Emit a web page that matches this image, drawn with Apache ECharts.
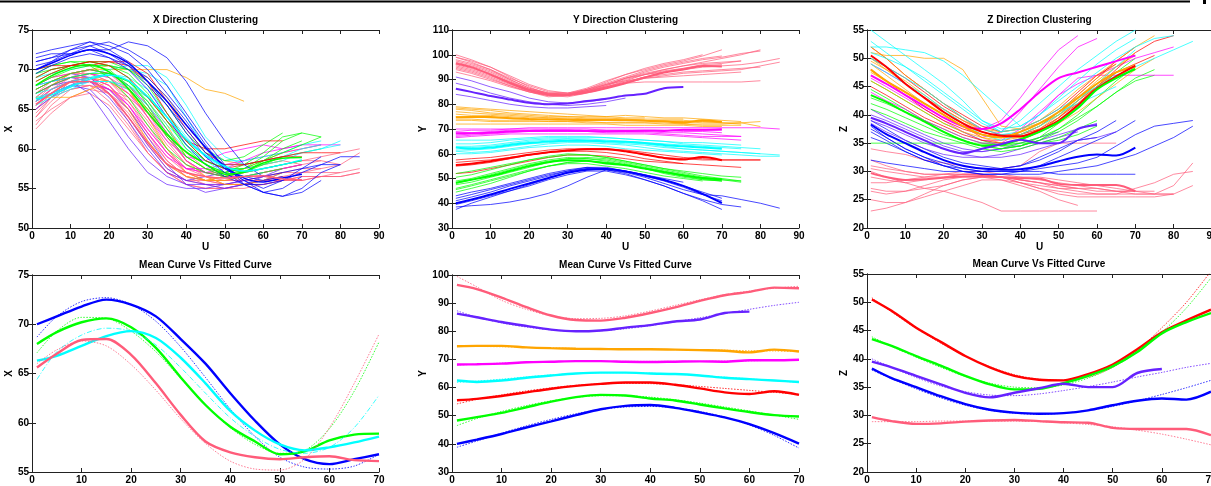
<!DOCTYPE html>
<html>
<head>
<meta charset="utf-8">
<script src="https://cdn.jsdelivr.net/npm/echarts@6/dist/echarts.min.js"></script>
<style>html,body{margin:0;padding:0;background:#fff}#chart{width:1211px;height:486px}</style>
</head>
<body>
<div id="chart"></div>
<script>
// U positions the sampled curves are read at
var U = [1, 5, 10, 15, 20, 25, 30, 35, 40, 45, 50, 55, 60, 65, 70, 75, 80, 85, 90];

// ---------- X direction, single trajectories ----------
var xBlue = [
  [72.0,72.5,73.0,73.5,73.0,72.0,70.0,67.0,64.0,60.5,57.5,56.0,55.0,56.0,57.5,59.0],
  [71.0,71.5,72.5,73.5,72.5,71.0,68.5,65.5,62.0,59.0,57.0,55.5,54.5,55.0,56.5],
  [70.5,71.0,72.0,72.5,72.5,73.5,73.0,71.5,68.5,64.5,61.0,58.0,56.5,57.0,57.5,58.0,58.0],
  [69.5,70.5,71.5,72.0,71.5,70.0,67.5,64.0,60.5,58.0,56.5,55.5,55.5,56.0,57.0,58.0,59.0,59.0],
  [70.0,71.0,72.5,73.0,72.0,70.5,69.0,66.5,63.5,60.0,57.5,56.0,54.5,54.0,55.0,57.0,58.0],
  [71.5,72.0,72.0,72.5,71.5,70.5,68.0,65.5,62.5,59.5,57.5,56.5,56.0,56.5],
  [71.0,71.5,72.0,73.0,73.5,72.5,71.0,68.0,64.5,61.0,58.0,55.5,54.5,54.0,54.5,56.0]
];
var xViolet = [
  [67.0,68.0,68.5,67.0,63.5,60.0,57.0,55.5,55.0,55.0,55.5,56.0,56.5],
  [66.0,67.0,68.0,67.5,65.0,61.5,58.5,56.5,55.5,55.5,55.0,55.5,56.0,57.0],
  [68.0,68.5,69.0,68.5,66.5,63.5,60.0,57.0,56.0,56.5,57.0],
  [65.0,66.5,68.0,68.5,67.5,65.0,61.5,58.0,55.5,54.5,55.0,55.5,56.5,57.5,58.0],
  [67.5,68.5,69.5,69.0,67.0,64.0,60.5,57.5,56.0,55.5,55.5,56.0]
];
var xGreen = [
  [69.0,70.0,70.5,71.0,70.5,69.5,67.0,63.5,60.0,58.0,57.0,58.0,59.5,61.5,62.0],
  [70.0,70.5,71.0,71.0,70.5,69.0,65.5,61.5,59.0,57.5,57.0,57.5,58.5,59.5,60.5,61.5],
  [68.0,69.0,70.0,70.5,70.0,68.0,65.0,62.0,59.5,58.0,57.0,56.5,57.0,57.5],
  [67.5,68.5,69.5,70.0,69.5,68.5,66.0,62.5,59.0,57.5,56.5,57.0,58.5,60.0,61.0],
  [69.5,70.5,71.0,70.5,69.0,66.5,63.0,60.0,58.0,57.0,56.5,57.0,58.0,59.0],
  [68.5,69.5,70.5,71.0,71.0,70.0,68.0,64.5,61.0,58.5,57.5,57.5,59.0,61.0,62.0,61.5],
  [67.0,68.0,69.0,69.5,69.5,68.5,66.5,63.5,60.5,58.5,57.5,57.0,57.5,58.0,58.5],
  [69.5,70.0,70.5,70.5,70.5,70.0,68.5,65.5,62.0,59.5,58.5,59.0,60.5,62.0]
];
var xCyan = [
  [68.0,68.5,69.0,69.5,70.0,70.5,70.5,69.0,65.5,61.5,59.0,58.0,58.5,59.0,60.0,60.5],
  [66.0,67.0,68.0,69.0,69.5,69.0,67.5,64.5,61.5,59.0,57.5,57.0,57.5,58.0,58.5],
  [65.5,66.5,67.5,68.5,68.5,67.5,65.5,62.5,60.0,58.5,57.5,57.5,58.0,58.5,59.5,60.0,61.0],
  [67.0,67.5,68.5,69.0,69.5,68.0,66.0,63.0,60.5,58.5,57.0,56.5,57.0],
  [69.0,69.5,70.0,70.5,70.5,70.0,69.5,68.0,64.0,60.0,58.5,58.5,59.0,59.5,60.5,61.0],
  [66.5,67.0,68.0,68.5,68.5,68.0,66.5,64.0,61.0,59.0,58.0,58.0,58.5,59.0,59.5,60.0,60.5]
];
var xPink = [
  [65.0,67.0,68.5,68.5,67.0,64.5,61.0,58.0,56.5,56.0,56.0,56.5,56.5,56.0,56.0],
  [63.0,65.5,67.5,68.0,67.0,64.0,60.5,57.5,56.0,55.5,55.5,56.0,56.5,57.0,57.0,57.5,58.0],
  [66.0,68.0,69.5,69.5,68.5,66.5,63.5,60.0,57.5,56.5,56.0,56.0,56.0,56.5,56.0,56.5,56.5,57.0],
  [64.0,66.0,68.0,69.0,68.0,65.5,62.0,58.5,56.5,55.5,55.0,55.5,56.0,56.5],
  [67.0,68.5,69.5,70.0,69.5,67.5,64.0,60.5,58.0,57.0,56.5,57.0,57.5,58.0,58.5,59.0,59.5,60.0],
  [65.5,67.0,68.0,68.0,66.0,63.0,59.5,57.0,55.5,55.0,55.0,55.5,56.0,56.0],
  [66.5,68.0,69.0,69.5,68.5,66.0,62.5,59.5,57.5,57.0,57.0,57.5,58.0,58.5,58.0,58.5],
  [64.5,66.5,68.5,69.0,68.5,67.0,64.5,61.0,58.0,56.5,55.5,55.5,55.5,56.0,56.5,56.5,57.0],
  [63.5,65.0,66.5,67.0,65.5,62.5,59.5,57.0,56.0,56.0,56.5,57.0,57.5],
  [67.5,68.5,69.0,69.0,67.5,65.0,61.5,58.5,56.5,56.0,56.0,56.0,56.5,57.0,57.5,57.5],
  [66.0,67.5,68.5,68.5,67.5,66.0,63.0,59.5,57.0,56.0,55.5,55.5,56.0,56.5,57.0,57.0,57.0,57.5],
  [64.0,66.5,68.5,69.5,69.0,67.5,65.0,61.5,58.5,57.0,56.5,56.5,57.0,57.5,58.0],
  [65.5,67.5,69.0,70.0,69.5,68.0,65.5,62.5,59.5,57.5,56.5,56.0,56.0,56.0,56.5,56.5],
  [62.5,64.5,66.5,67.5,67.0,65.0,62.0,59.0,57.0,56.0,55.5,55.5,55.5,56.0],
  [66.5,68.0,69.0,69.0,67.0,63.5,59.5,57.0,55.5,55.0,55.0,55.0,55.5,56.0,56.0,56.5,56.5,57.0],
  [65.0,66.5,67.5,68.0,67.5,66.5,64.5,61.5,58.5,57.0,56.5,57.0,57.5,58.0,58.5,58.5,58.0,59.5]
];
var xOrange = [
  [67.0,68.0,69.5,70.0,70.0,70.0,70.0,70.0,69.0,67.5,67.0,66.0],
  [66.5,66.5,66.5,67.5,68.5,67.5,64.0,60.0,57.0,56.0,56.5,57.5,58.5,59.5,60.0,60.5],
  [66.0,67.5,68.5,69.0,68.0,65.0,61.0,58.0,56.5,56.0,56.0,56.5,57.0,57.5,58.0],
  [67.5,68.5,69.5,70.0,69.5,68.0,66.0,63.0,59.0,57.5,57.0,57.5,58.0,58.5],
  [65.5,67.0,68.5,69.0,68.5,67.0,65.0,62.0,58.5,56.5,55.5,55.5,56.0,57.0],
  [68.0,69.0,69.5,70.0,70.5,70.0,69.0,66.5,63.0,60.0,58.5,58.0,58.5,59.0,59.5,60.0]
];
var xMagenta = [
  [67.0,68.0,69.0,69.5,69.0,67.0,64.0,61.0,59.0,58.5,59.5,60.0,60.5,60.0,60.5],
  [66.0,67.5,68.5,69.0,68.0,65.5,62.0,59.0,57.5,57.5,58.0,58.5,59.0,59.5,60.0,60.5],
  [68.0,69.0,69.5,70.0,69.5,68.0,65.5,62.0,58.5,57.0,56.5,56.5,57.0,57.5,58.0],
  [65.5,67.0,68.0,68.5,67.5,65.5,62.5,59.5,57.5,57.0,57.5,58.5,59.5,60.0,60.5,60.5,60.5]
];
var xRed = [
  [70.0,70.5,70.5,70.5,71.0,71.0,69.5,66.0,62.5,59.5,58.0,58.0,58.5,59.0,59.5,59.5,59.5],
  [68.5,69.5,70.5,71.0,70.5,69.0,66.5,63.5,61.0,60.0,60.0,60.5,61.0,61.0],
  [69.0,70.0,70.5,71.0,71.0,70.5,68.5,64.5,61.0,58.5,57.5,58.0,58.5,59.0,59.0]
];

// X direction, cluster mean and fitted curve (U = 1..70)
var xMeanBlue  = [70.0,70.8,71.8,72.5,72.0,70.8,68.5,66.0,63.0,60.2,57.8,56.3,55.8,56.3,56.8];
var xFitBlue   = [68.7,70.8,72.3,72.7,72.0,70.3,67.7,64.6,61.4,58.6,56.5,55.5,55.3,55.6,56.8];
var xMeanGreen = [68.0,69.2,70.2,70.6,69.7,67.6,64.6,61.8,59.6,58.1,56.8,57.1,58.2,58.8,58.9];
var xFitGreen  = [67.1,69.3,70.7,70.6,69.3,67.2,64.5,61.8,59.5,57.8,56.9,57.2,59.4,63.2,68.2];
var xMeanCyan  = [66.3,66.8,67.8,68.8,69.3,68.6,66.6,64.0,61.2,59.2,57.8,57.2,57.5,58.0,58.6];
var xFitCyan   = [64.4,67.2,68.9,69.6,69.3,67.9,65.6,63.0,60.5,58.6,57.3,56.9,57.5,59.5,62.8];
var xMeanPink  = [65.6,67.0,68.4,68.5,66.9,64.0,60.8,58.1,57.0,56.5,56.3,56.5,56.6,56.2,56.1];
var xFitPink   = [66.0,67.4,68.3,67.8,65.9,63.3,60.4,57.9,56.1,55.3,55.2,56.3,59.5,64.0,69.0];

// ---------- Y direction, single trajectories ----------
var yPink = [
  [100.0,98.0,95.0,91.0,87.0,84.0,84.0,86.0,89.0,92.0,94.0,96.0,97.5,99.5,102.0],
  [97.0,95.5,93.0,89.5,86.0,84.0,83.5,85.0,87.5,90.5,92.5,94.0,95.5,97.0,98.5,100.0,102.0],
  [95.0,93.5,91.0,88.0,85.5,83.5,83.5,85.5,88.0,90.5,92.0,93.0,94.0,95.0,95.5,96.0,97.0,98.5],
  [93.0,91.5,89.5,87.0,85.0,83.5,84.0,86.0,88.0,89.5,90.5,91.0,91.5,92.0,92.5,93.0],
  [98.0,96.5,94.0,90.5,87.5,85.0,84.5,86.0,88.5,91.0,93.5,95.5,97.0,98.5,99.5],
  [94.5,93.0,90.5,87.5,85.0,83.0,83.5,85.0,87.0,88.5,89.0,89.0,89.0,89.0,89.0,89.0,89.5],
  [96.0,94.5,92.0,89.0,86.0,84.5,84.0,85.5,87.5,90.0,92.0,93.5,94.5,96.0,96.5,97.5],
  [99.0,97.0,94.0,90.0,86.5,84.5,84.5,86.5,89.5,92.0,94.5,96.5,98.0,100.0],
  [95.5,94.0,91.5,88.5,86.0,84.0,84.0,85.5,87.0,89.0,91.0,92.0,93.0,93.5,94.0,94.5,95.0],
  [97.5,96.0,93.5,90.0,86.5,84.5,84.0,85.5,88.0,90.5,93.0,95.0,96.5,98.0,99.0,100.5,101.5],
  [94.0,92.5,90.0,87.5,85.0,83.5,83.0,84.5,86.5,88.5,90.5,91.5,92.5,93.0,93.5,94.0,95.5,97.0],
  [99.0,97.5,95.0,91.5,88.0,85.5,84.5,85.0,87.0,89.5,92.0,94.0,95.5,96.5,97.0,97.5],
  [96.5,95.0,92.5,89.0,86.0,84.0,83.5,85.0,87.0,89.0,91.0,93.0,94.5,95.5,96.0]
];
var yViolet = [
  [91.0,89.5,87.0,85.0,82.5,81.0,80.5,81.0,82.0],
  [84.0,83.0,81.5,80.0,79.0,78.5,78.5,79.0,79.5],
  [88.5,87.0,84.5,82.5,81.0,80.0,79.5,80.0,81.0,82.5]
];
var yOrange = [
  [79.0,78.5,78.0,77.5,77.0,76.5,76.0,75.5,75.0,74.5,74.5],
  [77.0,76.5,76.0,75.5,75.0,74.5,74.5,74.0,74.0,73.5,73.5,73.0,73.0,72.5,72.5,72.0],
  [75.0,75.0,74.5,74.5,74.0,74.0,74.0,73.5,73.5,73.5,73.5,73.0,73.0,73.0,72.5,72.5,71.0],
  [72.0,72.0,72.0,72.0,72.0,72.0,72.0,72.0,72.0,71.5,71.5,71.5,71.5,71.0,71.0],
  [73.5,73.5,73.0,73.0,73.0,73.0,73.0,72.5,72.5,72.5,72.5,72.5,72.0,72.0,72.0,72.5,73.0],
  [78.0,77.5,76.5,76.0,75.5,75.0,75.0,75.0,75.0,75.5,75.0,74.5,74.5,74.0,73.5,73.0],
  [76.0,75.5,75.5,75.0,74.5,74.5,74.0,74.0,74.0,74.0,73.5,73.5,73.5,73.0,73.0],
  [74.0,74.0,73.5,73.5,73.5,73.0,73.0,73.0,72.5,72.5,72.5,72.0,72.0,71.5,71.5,71.5],
  [78.5,78.0,77.5,76.5,76.0,75.5,75.0,74.5,74.5,74.0,74.0,74.0,74.0]
];
var yMagenta = [
  [70.0,70.0,70.0,70.0,70.5,70.5,70.5,70.5,70.5,70.5,70.5,70.5,70.5,70.5,70.5,70.5,70.5,70.0],
  [67.0,67.5,68.0,68.5,69.0,69.0,69.0,69.0,69.0,69.0,69.0,68.5,68.5,68.0,67.5,67.0],
  [68.5,68.5,69.0,69.5,69.5,69.5,69.5,69.5,69.5,69.5,69.5,69.5,69.0,69.0,68.5],
  [66.5,67.0,67.5,68.0,68.0,68.0,68.0,68.0,68.0,68.0,68.0,67.5,67.0,66.5,66.0,65.5],
  [69.0,69.5,69.5,70.0,70.0,70.0,70.0,70.0,69.5,69.5,69.5,69.5,69.5,69.5,69.5],
  [67.5,68.0,68.5,69.0,69.0,69.0,69.0,69.0,68.5,68.5,68.5,68.0,67.5,67.0,67.0,67.0]
];
var yCyan = [
  [64.0,64.0,64.5,65.5,66.0,66.5,66.5,66.5,66.5,66.0,65.5,65.0,64.0,63.5,63.0,62.5,62.0],
  [61.0,60.5,61.0,62.0,63.0,64.0,64.5,64.5,64.0,63.5,62.5,61.5,61.0,60.5,60.0,59.5,59.0,59.0],
  [62.5,62.5,63.0,64.0,65.0,65.5,66.0,66.0,65.5,65.0,64.5,64.0,63.5,63.0,62.5,62.0],
  [60.0,60.0,60.5,61.5,62.5,63.0,63.5,63.5,63.0,62.0,61.5,61.0,60.5,60.0,59.5],
  [65.5,65.5,65.5,66.0,66.5,67.0,67.0,67.0,66.5,66.0,65.5,65.0,64.5,64.5,64.0,63.5],
  [63.0,63.0,63.5,64.5,65.5,66.0,66.0,65.5,65.0,64.5,64.0,63.0,62.0,61.5,61.0,60.5,60.0],
  [61.5,61.5,62.0,63.0,64.0,64.5,65.0,65.0,64.5,64.0,63.5,62.5,62.0,61.5,61.0,60.5,60.0,59.5]
];
var yRed = [
  [57.5,58.0,58.5,59.5,60.5,61.5,62.0,62.0,62.0,61.5,60.5,59.5,58.5,58.0,57.5,57.5,57.5],
  [55.0,55.5,56.5,58.0,59.5,60.5,61.0,61.0,60.5,59.5,58.0,57.0,56.0,55.5,55.0,54.5],
  [52.0,52.5,54.0,55.5,57.0,58.5,59.5,59.5,59.0,58.0,57.0,56.5,56.0],
  [56.5,57.0,57.5,58.5,59.5,60.5,61.5,62.0,62.0,61.0,59.5,58.5,58.0,57.5,57.5,57.5,57.5]
];
var yGreen = [
  [52.0,53.0,54.5,56.0,57.5,58.5,59.5,59.5,58.5,57.0,55.5,54.0,52.5,51.0,50.0,49.0],
  [49.0,50.0,52.0,54.0,56.0,57.5,58.5,58.0,57.0,55.5,54.0,52.5,51.0,49.5,49.0],
  [46.0,47.5,49.5,51.5,53.5,55.0,56.0,56.0,55.0,54.0,52.5,51.0,50.0,49.0],
  [44.5,46.0,48.0,50.5,53.0,55.0,56.5,57.0,56.5,55.5,54.0,52.0,50.5,49.5,49.0],
  [50.5,51.5,53.5,55.5,57.5,59.0,60.0,59.5,58.5,57.0,55.5,54.0,53.0,52.0,51.0,50.5],
  [47.5,48.5,50.5,52.5,54.5,56.5,58.0,58.5,58.0,56.5,55.0,53.5,52.0,50.5,49.5,48.5],
  [45.5,47.0,49.0,51.0,53.0,55.0,56.5,57.0,56.5,55.5,54.0,52.5,51.0,50.0,49.0],
  [48.0,49.5,51.5,53.5,55.5,57.0,58.0,58.0,57.5,56.0,54.5,53.0,51.5,50.0,49.5,49.0]
];
var yBlue = [
  [38.5,39.0,39.5,40.5,42.0,44.0,47.0,50.5,53.5,52.5,50.5,48.0,45.5,43.5,43.0,41.5,40.0,38.0],
  [37.5,40.0,42.5,45.0,47.5,50.0,52.5,54.0,53.5,52.0,49.5,47.0,44.0,41.0,37.5],
  [41.0,42.5,44.5,47.0,49.0,51.0,53.0,54.5,54.5,53.0,51.5,49.5,47.0,44.5,42.0],
  [43.0,44.5,46.0,48.0,50.0,52.0,53.5,54.5,54.0,53.0,51.5,50.0,48.5],
  [39.5,41.0,43.0,45.0,47.0,49.5,51.5,53.0,53.0,51.5,49.5,47.0,44.0,41.5,39.5,38.5],
  [42.0,43.5,45.5,47.5,49.5,51.5,53.0,54.0,54.0,53.0,51.0,49.0,46.5,43.5,41.0]
];

// Y direction, cluster mean and fitted curve
var yMeanPink    = [96.5,95.0,92.0,88.6,85.6,84.0,83.8,84.8,86.5,88.5,90.8,92.8,94.0,95.5,95.3];
var yFitPink     = [99.5,95.8,91.0,87.8,85.5,84.5,84.6,85.5,87.2,89.2,91.2,93.0,94.3,95.3,96.0];
var yMeanViolet  = [86.3,85.0,83.3,81.9,80.6,80.0,80.3,81.3,82.2,83.5,84.2,86.5,87.0];
var yFitViolet   = [87.3,85.0,83.0,81.5,80.5,80.0,80.2,80.9,82.0,83.4,84.8,86.3,87.8,89.2,90.3];
var yMeanOrange  = [74.7,74.8,74.8,74.3,74.0,73.8,73.7,73.6,73.6,73.5,73.3,73.1,72.5,73.5,72.8];
var yFitOrange   = [74.6,74.6,74.5,74.3,74.1,73.9,73.8,73.7,73.6,73.5,73.4,73.3,73.1,73.0,72.8];
var yMeanMagenta = [68.2,68.3,68.5,69.0,69.2,69.4,69.4,69.2,69.1,69.2,69.3,69.2,69.7,69.7,69.9];
var yFitMagenta  = [68.0,68.3,68.7,69.0,69.2,69.3,69.3,69.3,69.3,69.3,69.3,69.4,69.5,69.7,69.9];
var yMeanCyan    = [62.5,62.0,62.5,63.5,64.3,65.0,65.3,65.3,65.0,64.8,64.3,63.5,63.0,62.5,62.0];
var yFitCyan     = [61.8,62.3,63.0,63.8,64.5,65.0,65.3,65.3,65.1,64.8,64.3,63.7,63.1,62.5,61.8];
var yMeanRed     = [55.5,56.0,57.0,58.3,59.6,60.6,61.3,61.8,61.8,61.0,59.7,58.3,57.7,58.7,57.4];
var yFitRed      = [54.2,55.8,57.4,58.8,59.9,60.8,61.3,61.5,61.4,61.0,60.4,59.7,59.0,58.3,57.6];
var yMeanGreen   = [48.3,49.5,51.0,53.0,55.0,56.6,57.4,57.2,56.1,55.4,54.0,52.6,51.3,50.2,49.7];
var yFitGreen    = [46.5,49.0,51.5,53.6,55.3,56.5,57.1,57.1,56.6,55.7,54.5,53.1,51.7,50.2,48.7];
var yMeanBlue    = [40.0,41.5,43.5,45.8,48.0,50.2,52.3,53.5,53.8,52.8,51.2,49.4,47.0,43.8,40.1];
var yFitBlue     = [38.8,41.0,43.8,46.4,48.7,50.7,52.2,53.1,53.3,52.8,51.5,49.5,46.7,43.0,38.5];

// ---------- Z direction, single trajectories ----------
var zCyan = [
  [55.0,53.0,50.5,48.0,45.5,42.5,39.0,37.0,39.0,42.0,45.0,48.0,50.5,53.0,55.0],
  [52.0,52.0,51.5,51.0,49.5,47.0,44.0,41.0,38.0,40.0,43.0,46.0,49.0,51.5,53.5],
  [53.0,51.0,48.5,46.0,43.5,41.0,38.5,37.0,37.5,39.0,41.0,43.0,45.0,47.0,48.5,50.0,51.5,53.0],
  [50.0,48.5,46.5,44.5,42.0,39.5,37.5,36.5,37.0,38.5,40.5,42.0,43.5,45.0],
  [49.0,47.5,45.5,43.5,41.0,38.5,36.5,35.5,36.5,38.0,40.0,42.5,45.5,48.5,51.5],
  [51.0,50.0,48.5,46.5,44.0,41.5,39.0,37.5,38.0,40.0,42.5,45.0,47.5,50.0,52.0,53.5,54.0]
];
var zOrange = [
  [51.0,50.5,50.5,50.0,50.0,48.0,43.0,38.0,37.5,38.5,40.0,42.0],
  [49.0,47.0,44.5,42.0,40.0,38.0,36.5,36.0,36.5,38.0,40.0,42.5,45.0,47.5,49.0],
  [52.0,50.0,47.0,44.5,42.0,39.5,37.0,36.0,36.0,37.0,38.5,40.5,43.0,45.5,48.0,50.0],
  [47.5,46.0,44.0,42.0,40.0,38.0,36.0,35.0,35.5,37.0,39.5,42.5,45.5,48.5,51.0],
  [50.0,48.0,45.5,43.0,41.0,39.0,37.5,37.0,37.5,39.0,41.5,44.5,47.0,49.5,52.0,54.0],
  [46.0,44.5,42.5,40.5,38.5,37.0,36.0,35.5,36.0,37.5,40.0,43.0,46.0,48.5,50.5],
  [49.5,48.0,46.0,43.5,41.0,39.0,37.0,36.0,36.5,38.0,40.5,43.5,46.5,49.0]
];
var zRed = [
  [50.0,48.5,46.5,44.0,41.5,39.5,37.5,36.5,36.5,37.5,39.5,42.0,45.0,48.0,51.0,53.0,54.0],
  [45.0,43.5,41.5,39.5,38.0,36.5,35.5,35.0,35.5,37.0,39.5,42.5,45.0,47.5,49.0,50.5],
  [52.0,50.0,47.0,44.5,42.0,40.0,38.0,37.0,37.5,39.0,41.0,44.0,47.0,49.0],
  [48.0,46.0,43.5,41.0,39.0,37.5,36.5,36.0,36.5,38.0,40.5,43.5,46.5,49.5,52.0]
];
var zMagenta = [
  [49.0,47.5,45.5,43.0,41.0,39.0,37.5,39.0,43.0,47.5,51.5,54.0],
  [48.0,46.0,44.0,42.0,40.0,38.0,36.0,37.0,40.5,44.5,48.5,52.0,53.5],
  [46.5,45.0,43.0,41.0,39.0,37.0,35.5,35.5,37.5,40.5,43.5,45.5,47.0,48.5,50.0,51.0,52.0],
  [44.0,42.5,41.0,39.0,37.5,36.0,35.0,35.0,37.0,40.0,43.5,46.5,47.0,47.0,47.0,47.0,47.0]
];
var zGreen = [
  [46.0,44.5,42.5,40.5,38.5,37.0,35.5,34.5,34.5,35.5,37.5,40.0,43.0,46.0,48.5],
  [43.0,42.0,40.5,39.0,37.5,36.0,35.0,34.5,35.0,36.0,37.5,39.5,41.5,44.0,46.5,48.0],
  [41.0,40.0,38.5,37.0,36.0,35.0,34.0,33.5,34.0,35.0,36.0,37.5,39.0],
  [35.0,35.0,35.0,35.0,35.0,35.0,35.0,35.0,35.0,35.0,35.5,36.5,38.0],
  [44.5,43.0,41.0,39.0,37.0,35.5,34.5,34.0,34.5,36.0,38.5,41.5,44.5,47.5,50.0],
  [42.0,41.0,39.5,38.0,36.5,35.5,34.5,34.0,34.5,35.5,37.0,39.0,41.5,44.0,46.0,47.0]
];
var zViolet = [
  [40.0,39.0,37.5,36.0,34.5,33.5,33.5,34.0,35.0,36.0,37.0],
  [38.5,37.0,35.5,34.0,33.0,32.5,32.5,33.0,34.0,35.0,36.0,37.0],
  [41.0,39.5,38.0,36.5,35.0,34.0,33.5,34.0,34.5,35.5,36.5,37.5,38.5],
  [39.0,38.0,36.5,35.0,34.0,33.0,32.5,32.5,33.0,34.0,35.0,35.5,36.0,37.0]
];
var zBlue = [
  [39.0,37.5,35.5,34.0,32.5,31.5,31.0,30.5,31.0,32.0,33.5,35.5,37.0,39.0],
  [37.5,36.0,34.0,32.5,31.0,30.0,29.5,29.5,29.5,29.5,30.0,30.5,31.0,32.0,33.0,34.5,36.0,38.0],
  [32.0,31.5,31.0,30.5,30.0,30.0,30.0,30.0,30.0,30.5,31.0,31.5,32.5,34.5,36.5,38.0,38.5,39.0],
  [36.0,35.0,33.5,32.0,31.0,30.5,30.0,30.0,30.0,30.0,29.5,29.5,29.5,29.5,29.5],
  [38.0,36.0,34.0,32.5,31.5,30.5,30.0,30.5,31.0,32.5,34.0,35.5,36.0],
  [37.0,35.5,33.5,32.0,31.0,30.0,29.5,29.5,30.0,31.0,32.5,34.0,35.5,37.0,39.0]
];
var zPink = [
  [34.0,33.5,33.0,32.0,31.5,31.0,30.5,30.5,31.0,33.5,35.0,35.0,35.0,35.0],
  [31.0,30.5,30.0,29.5,29.5,29.5,29.5,29.0,28.5,28.0,27.5,27.0,26.5,26.5,26.5,26.5],
  [29.0,28.5,28.0,28.5,29.0,29.5,29.5,29.0,28.0,27.0,26.0,25.5,25.5,25.5,25.5,25.5,26.0,27.5],
  [23.0,23.5,24.5,26.0,27.5,28.5,29.0,29.0,28.5,28.0,27.5,27.0,27.0,26.5,26.0,26.0,27.5,31.5],
  [27.0,26.5,26.5,27.0,27.5,28.5,29.0,29.0,29.0,29.0,28.5,28.0,27.5,27.0,26.5],
  [30.0,29.0,28.0,27.0,26.5,25.5,24.5,23.0,23.0,23.0,23.0,23.0,23.0],
  [25.0,24.5,24.5,25.5,26.5,27.5,28.5,28.5,27.5,26.5,25.0,24.0],
  [32.0,31.0,30.0,29.5,29.5,29.5,29.5,29.0,28.5,28.0,27.0,26.5,26.0,26.0,26.0,26.0,26.0],
  [28.0,28.0,28.5,29.0,29.5,30.0,30.0,29.5,29.0,28.5,28.0,27.5,27.0,26.5,26.5,26.0,26.0],
  [30.5,30.0,29.5,29.0,29.0,29.5,29.5,29.0,28.0,27.0,26.5,26.0,26.0,26.0,27.0,28.0,29.5,30.0],
  [26.5,26.0,26.5,27.5,28.5,29.0,29.0,28.5,28.0,27.5,27.0,27.0]
];
// thicker cluster curves visible only in the top Z panel
var zMeanMagenta = [47.0,45.5,43.5,41.5,39.5,38.0,37.5,38.5,41.0,44.0,46.5,47.5,48.5,49.5,50.5];
var zMeanOrange  = [48.0,46.0,44.0,42.0,40.0,38.0,36.5,36.0,37.0,38.5,40.5,43.0,45.5,47.5,48.5];

// Z direction, cluster mean and fitted curve
var zMeanRed    = [50.5,48.5,45.5,43.0,40.5,38.5,37.0,36.3,36.2,37.3,39.0,41.7,44.7,46.8,48.7];
var zFitRed     = [50.8,48.3,45.4,42.8,40.5,38.6,37.2,36.4,36.2,36.8,38.5,41.5,45.5,50.0,55.5];
var zMeanGreen  = [43.5,42.3,40.5,38.8,37.0,35.5,34.6,34.7,35.7,37.0,38.7,41.2,44.5,46.5,48.1];
var zFitGreen   = [43.9,42.2,40.3,38.5,36.9,35.7,35.0,34.9,35.4,36.6,38.5,41.2,44.7,49.0,54.3];
var zMeanViolet = [39.5,38.5,37.0,35.5,34.0,33.2,34.0,34.8,35.6,35.0,35.0,37.5,38.2];
var zFitViolet  = [40.0,38.5,36.7,35.2,34.2,33.6,33.5,33.8,34.4,35.1,35.9,36.8,37.6,38.5,39.2];
var zMeanBlue   = [38.3,36.6,35.0,33.4,32.0,31.0,30.5,30.3,30.4,30.9,31.8,32.6,33.0,32.8,34.2];
var zFitBlue    = [38.0,36.5,34.7,33.1,31.8,30.9,30.4,30.2,30.4,30.9,31.6,32.6,33.7,34.9,36.2];
var zMeanPink   = [29.7,29.0,28.5,28.6,28.9,29.1,29.2,29.0,28.8,28.7,27.8,27.6,27.6,27.6,26.5];
var zFitPink    = [28.9,28.9,28.9,29.0,29.0,29.0,29.0,28.9,28.7,28.4,28.0,27.4,26.7,25.8,24.8];

var titles = ["X Direction Clustering", "Y Direction Clustering", "Z Direction Clustering",
              "Mean Curve Vs Fitted Curve", "Mean Curve Vs Fitted Curve", "Mean Curve Vs Fitted Curve"];

var colors = {
  blue: "#0000ff", green: "#00ff00", red: "#ff0000", cyan: "#00ffff",
  magenta: "#ff00ff", orange: "#ffa500", pink: "#ff5c7a", violet: "#6622ff"
};

var FONT = "Liberation Sans, Arial, Helvetica, sans-serif";

// panel geometry and axis ranges
var panels = [
  { left: 32,  top: 30,  width: 347, height: 198, xMax: 90, yMin: 50, yMax: 75,  yStep: 5,  yName: "X", gap: 18 },
  { left: 452, top: 30,  width: 347, height: 198, xMax: 90, yMin: 30, yMax: 110, yStep: 10, yName: "Y", gap: 23 },
  { left: 867, top: 30,  width: 345, height: 198, xMax: 90, yMin: 20, yMax: 55,  yStep: 5,  yName: "Z", gap: 18 },
  { left: 32,  top: 275, width: 347, height: 197, xMax: 70, yMin: 55, yMax: 75,  yStep: 5,  yName: "X", gap: 18 },
  { left: 452, top: 275, width: 347, height: 197, xMax: 70, yMin: 30, yMax: 100, yStep: 10, yName: "Y", gap: 23 },
  { left: 867, top: 274, width: 344, height: 198, xMax: 70, yMin: 20, yMax: 55,  yStep: 5,  yName: "Z", gap: 18 }
];

var grid = [], xAxis = [], yAxis = [], series = [], graphic = [];
var lab = { color: "#000", fontFamily: FONT, fontWeight: "bold", fontSize: 10 };
var axLine = { show: true, lineStyle: { color: "#222", width: 1 } };
var tick = { show: true, inside: true, length: 4, lineStyle: { color: "#222" } };

panels.forEach(function (p, i) {
  grid.push({ left: p.left, top: p.top, width: p.width, height: p.height,
              containLabel: false, outerBoundsMode: "none" });
  xAxis.push({ type: "value", gridIndex: i, min: 0, max: p.xMax, interval: 10, position: "bottom",
               name: "U", nameLocation: "middle", nameGap: 11, nameTextStyle: lab,
               axisLine: axLine, axisTick: tick, axisLabel: Object.assign({ margin: 3 }, lab),
               splitLine: { show: false } });
  xAxis.push({ type: "value", gridIndex: i, min: 0, max: p.xMax, interval: 10, position: "top",
               axisLine: axLine, axisTick: tick, axisLabel: { show: false }, splitLine: { show: false } });
  yAxis.push({ type: "value", gridIndex: i, min: p.yMin, max: p.yMax, interval: p.yStep, position: "left",
               name: p.yName, nameLocation: "middle", nameGap: p.gap, nameRotate: 90, nameTextStyle: lab,
               axisLine: axLine, axisTick: tick, axisLabel: Object.assign({ margin: 3 }, lab),
               splitLine: { show: false } });
  yAxis.push({ type: "value", gridIndex: i, min: p.yMin, max: p.yMax, interval: p.yStep, position: "right",
               axisLine: axLine, axisTick: tick, axisLabel: { show: false }, splitLine: { show: false } });
  graphic.push({ type: "text", x: p.left + p.width / 2, y: p.top - 10,
                 style: { text: titles[i], font: "bold 10px " + FONT, fill: "#000",
                          align: "center", verticalAlign: "middle", textAlign: "center", textVerticalAlign: "middle" } });
});

function pts(vals) {
  return vals.map(function (v, k) { return [U[k], v]; });
}
function line(gi, vals, color, width, dash, smooth, opacity) {
  series.push({
    type: "line", xAxisIndex: gi * 2, yAxisIndex: gi * 2, data: pts(vals),
    symbol: "none", silent: true, animation: false, smooth: smooth || false,
    lineStyle: { color: color, width: width, type: dash || "solid", opacity: opacity == null ? 1 : opacity }
  });
}
function bundle(gi, groups) {
  groups.forEach(function (g) {
    g[1].forEach(function (vals) { line(gi, vals, colors[g[0]], 0.9, "solid", false, 0.8); });
  });
}

// top row: single trajectories, then the cluster means on top
bundle(0, [["pink", xPink], ["violet", xViolet], ["orange", xOrange], ["magenta", xMagenta],
           ["cyan", xCyan], ["green", xGreen], ["red", xRed], ["blue", xBlue]]);
bundle(1, [["pink", yPink], ["violet", yViolet], ["orange", yOrange], ["magenta", yMagenta],
           ["cyan", yCyan], ["red", yRed], ["green", yGreen], ["blue", yBlue]]);
bundle(2, [["pink", zPink], ["blue", zBlue], ["violet", zViolet], ["green", zGreen],
           ["magenta", zMagenta], ["red", zRed], ["orange", zOrange], ["cyan", zCyan]]);

var xSets = [["blue", xMeanBlue, xFitBlue], ["green", xMeanGreen, xFitGreen],
             ["cyan", xMeanCyan, xFitCyan], ["pink", xMeanPink, xFitPink]];
var ySets = [["pink", yMeanPink, yFitPink], ["violet", yMeanViolet, yFitViolet],
             ["orange", yMeanOrange, yFitOrange], ["magenta", yMeanMagenta, yFitMagenta],
             ["cyan", yMeanCyan, yFitCyan], ["red", yMeanRed, yFitRed],
             ["green", yMeanGreen, yFitGreen], ["blue", yMeanBlue, yFitBlue]];
var zSets = [["red", zMeanRed, zFitRed], ["green", zMeanGreen, zFitGreen],
             ["violet", zMeanViolet, zFitViolet], ["blue", zMeanBlue, zFitBlue],
             ["pink", zMeanPink, zFitPink]];

xSets.forEach(function (s) { line(0, s[1], colors[s[0]], 1.5, "solid", 0.3); });
ySets.forEach(function (s) { line(1, s[1], colors[s[0]], 2, "solid", 0.3); });
line(2, zMeanMagenta, colors.magenta, 2, "solid", 0.3);
line(2, zMeanOrange, colors.orange, 2, "solid", 0.3);
zSets.forEach(function (s) { line(2, s[1], colors[s[0]], 2, "solid", 0.3); });

// bottom row: mean (thick) vs fitted (dotted)
[[3, xSets], [4, ySets], [5, zSets]].forEach(function (pair) {
  pair[1].forEach(function (s) {
    var dash = (pair[0] === 3 && s[0] === "cyan") ? [5, 2, 1, 2] : [1.5, 1.5];
    line(pair[0], s[2], colors[s[0]], 1, dash, 0.3, 0.8);
    line(pair[0], s[1], colors[s[0]], 2.4, "solid", 0.3);
  });
});

// figure-window edge across the top
graphic.push({ type: "line", shape: { x1: 0, y1: 1.5, x2: 1190, y2: 1.5 }, style: { stroke: "#000", lineWidth: 2 } });
graphic.push({ type: "rect", shape: { x: 1203, y: 0, width: 3, height: 4 }, style: { fill: "#000" } });

var chart = echarts.init(document.getElementById("chart"), null, { renderer: "canvas" });
chart.setOption({
  animation: false,
  backgroundColor: "#fff",
  grid: grid, xAxis: xAxis, yAxis: yAxis, series: series, graphic: graphic
});
</script>
</body>
</html>
